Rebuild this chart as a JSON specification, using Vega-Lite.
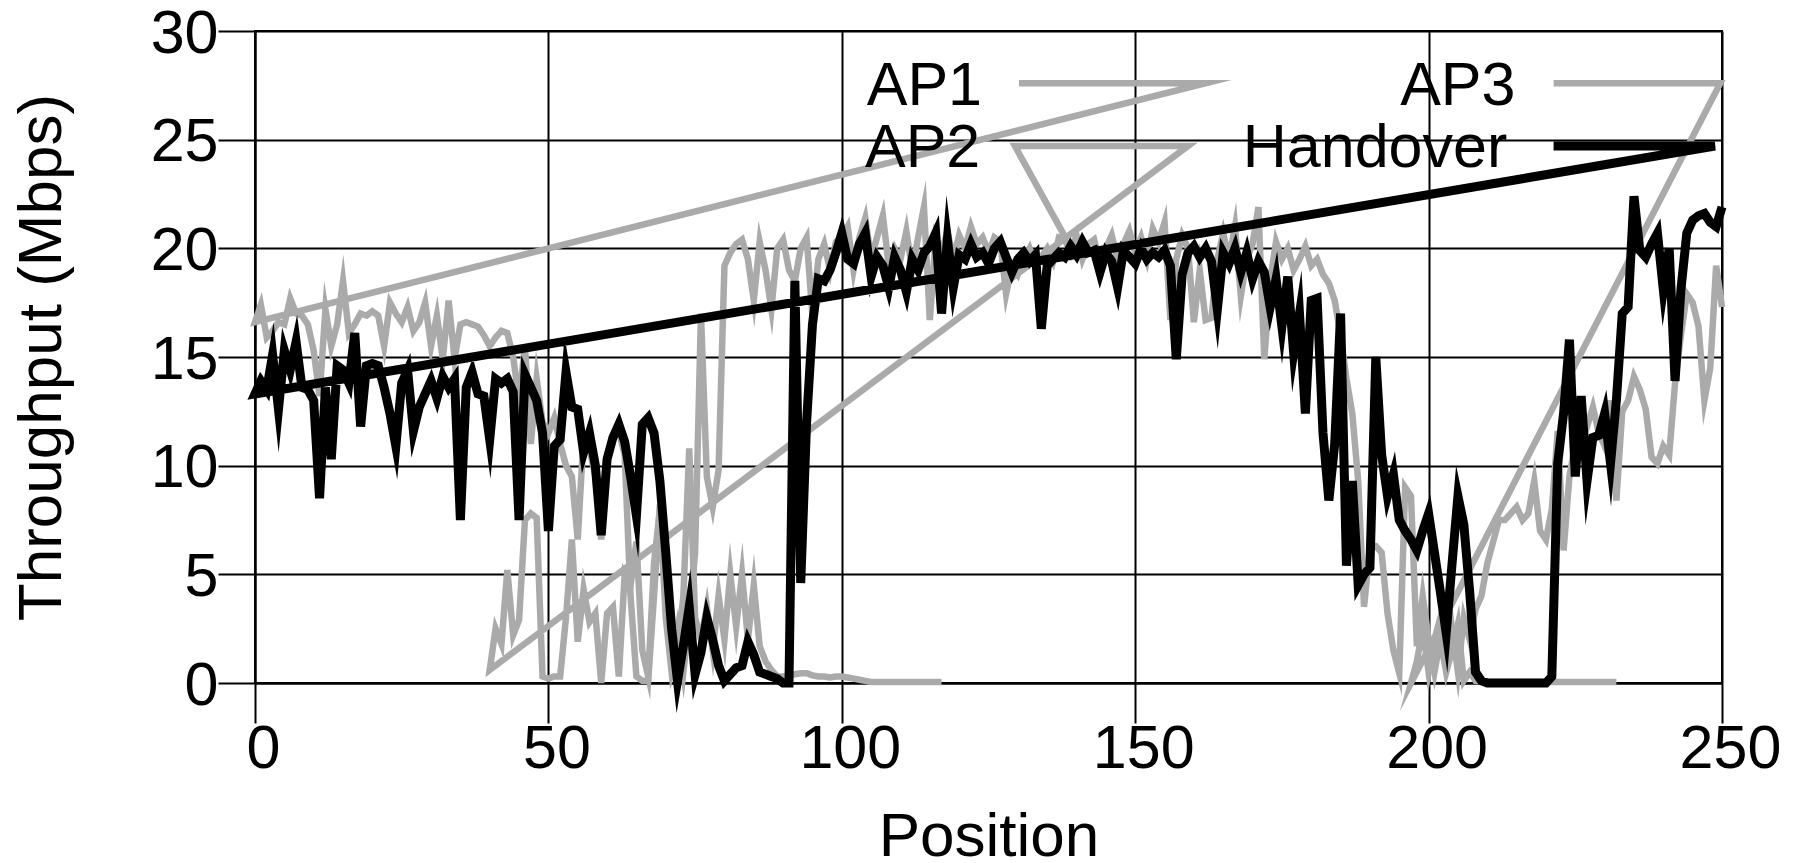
{
  "$schema": "https://vega.github.io/schema/vega-lite/v6.json",
  "width": 1467,
  "height": 652,
  "autosize": {"type": "none"},
  "padding": {"left": 255, "top": 31, "right": 75, "bottom": 180},
  "background": "white",
  "config": {
    "view": {"stroke": "black", "strokeWidth": 2},
    "axis": {
      "grid": true, "gridColor": "black", "gridWidth": 2, "gridOpacity": 1,
      "domainColor": "black", "domainWidth": 2,
      "tickColor": "black", "tickWidth": 2,
      "labelFont": "Liberation Sans", "labelFontSize": 61, "labelColor": "black",
      "labelFlush": false, "labelOverlap": false,
      "titleFont": "Liberation Sans", "titleFontSize": 62, "titleFontWeight": "normal", "titleColor": "black",
      "zindex": 1
    }
  },
  "datasets": {
    "lines": [
      {"s":"AP1","i":-2,"x":130.2,"y":27.6},{"s":"AP1","i":-1,"x":162.0,"y":27.6},
      {"s":"AP1","i":0,"x":0,"y":16.6},{"s":"AP1","i":1,"x":1,"y":17.4},{"s":"AP1","i":2,"x":2,"y":15.9},{"s":"AP1","i":3,"x":3,"y":16.2},{"s":"AP1","i":4,"x":4,"y":16.6},{"s":"AP1","i":5,"x":5,"y":16.5},{"s":"AP1","i":6,"x":6,"y":17.7},{"s":"AP1","i":7,"x":7,"y":17.0},{"s":"AP1","i":8,"x":8,"y":16.9},{"s":"AP1","i":9,"x":9,"y":16.5},
      {"s":"AP1","i":10,"x":10,"y":15.3},{"s":"AP1","i":11,"x":11,"y":13.2},{"s":"AP1","i":12,"x":12,"y":17.2},{"s":"AP1","i":13,"x":13,"y":15.5},{"s":"AP1","i":14,"x":14,"y":16.5},{"s":"AP1","i":15,"x":15,"y":18.5},{"s":"AP1","i":16,"x":16,"y":16.1},{"s":"AP1","i":17,"x":17,"y":16.5},{"s":"AP1","i":18,"x":18,"y":17.0},{"s":"AP1","i":19,"x":19,"y":16.9},
      {"s":"AP1","i":20,"x":20,"y":17.1},{"s":"AP1","i":21,"x":21,"y":16.9},{"s":"AP1","i":22,"x":22,"y":15.5},{"s":"AP1","i":23,"x":23,"y":17.5},{"s":"AP1","i":24,"x":24,"y":17.0},{"s":"AP1","i":25,"x":25,"y":16.6},{"s":"AP1","i":26,"x":26,"y":17.3},{"s":"AP1","i":27,"x":27,"y":16.2},{"s":"AP1","i":28,"x":28,"y":16.6},{"s":"AP1","i":29,"x":29,"y":17.5},
      {"s":"AP1","i":30,"x":30,"y":15.5},{"s":"AP1","i":31,"x":31,"y":16.9},{"s":"AP1","i":32,"x":32,"y":14.9},{"s":"AP1","i":33,"x":33,"y":17.6},{"s":"AP1","i":34,"x":34,"y":14.9},{"s":"AP1","i":35,"x":35,"y":16.5},{"s":"AP1","i":36,"x":36,"y":16.6},{"s":"AP1","i":37,"x":37,"y":16.5},{"s":"AP1","i":38,"x":38,"y":16.4},{"s":"AP1","i":39,"x":39,"y":16.0},
      {"s":"AP1","i":40,"x":40,"y":15.5},{"s":"AP1","i":41,"x":41,"y":15.9},{"s":"AP1","i":42,"x":42,"y":16.2},{"s":"AP1","i":43,"x":43,"y":16.1},{"s":"AP1","i":44,"x":44,"y":15.0},{"s":"AP1","i":45,"x":45,"y":13.0},{"s":"AP1","i":46,"x":46,"y":15.5},{"s":"AP1","i":47,"x":47,"y":11.0},{"s":"AP1","i":48,"x":48,"y":14.0},{"s":"AP1","i":49,"x":49,"y":12.0},
      {"s":"AP1","i":50,"x":50,"y":11.5},{"s":"AP1","i":51,"x":51,"y":12.2},{"s":"AP1","i":52,"x":52,"y":11.0},{"s":"AP1","i":53,"x":53,"y":10.0},{"s":"AP1","i":54,"x":54,"y":9.5},{"s":"AP1","i":55,"x":55,"y":6.6},{"s":"AP1","i":56,"x":56,"y":11.4},{"s":"AP1","i":57,"x":57,"y":10.8},{"s":"AP1","i":58,"x":58,"y":9.5},{"s":"AP1","i":59,"x":59,"y":6.6},
      {"s":"AP1","i":60,"x":60,"y":10.5},{"s":"AP1","i":61,"x":61,"y":11.2},{"s":"AP1","i":62,"x":62,"y":11.6},{"s":"AP1","i":63,"x":63,"y":10.5},{"s":"AP1","i":64,"x":64,"y":4.0},{"s":"AP1","i":65,"x":65,"y":0.3},{"s":"AP1","i":66,"x":66,"y":0.1},{"s":"AP1","i":67,"x":67,"y":0.1},{"s":"AP1","i":68,"x":68,"y":4.0},{"s":"AP1","i":69,"x":69,"y":8.2},
      {"s":"AP1","i":70,"x":70,"y":3.0},{"s":"AP1","i":71,"x":71,"y":0.5},{"s":"AP1","i":72,"x":72,"y":1.5},{"s":"AP1","i":73,"x":73,"y":4.0},{"s":"AP1","i":74,"x":74,"y":10.8},{"s":"AP1","i":75,"x":75,"y":3.0},{"s":"AP1","i":76,"x":76,"y":2.0},{"s":"AP1","i":77,"x":77,"y":3.5},{"s":"AP1","i":78,"x":78,"y":1.5},{"s":"AP1","i":79,"x":79,"y":4.0},
      {"s":"AP1","i":80,"x":80,"y":2.0},{"s":"AP1","i":81,"x":81,"y":5.0},{"s":"AP1","i":82,"x":82,"y":2.6},{"s":"AP1","i":83,"x":83,"y":5.0},{"s":"AP1","i":84,"x":84,"y":2.0},{"s":"AP1","i":85,"x":85,"y":4.5},{"s":"AP1","i":86,"x":86,"y":1.7},{"s":"AP1","i":87,"x":87,"y":1.0},{"s":"AP1","i":88,"x":88,"y":0.6},{"s":"AP1","i":89,"x":89,"y":0.3},
      {"s":"AP1","i":90,"x":90,"y":0.3},{"s":"AP1","i":91,"x":91,"y":0.35},{"s":"AP1","i":92,"x":92,"y":0.4},{"s":"AP1","i":93,"x":93,"y":0.45},{"s":"AP1","i":94,"x":94,"y":0.45},{"s":"AP1","i":95,"x":95,"y":0.35},{"s":"AP1","i":96,"x":96,"y":0.3},{"s":"AP1","i":97,"x":97,"y":0.3},{"s":"AP1","i":98,"x":98,"y":0.25},{"s":"AP1","i":99,"x":99,"y":0.3},
      {"s":"AP1","i":100,"x":100,"y":0.3},{"s":"AP1","i":101,"x":101,"y":0.25},{"s":"AP1","i":102,"x":102,"y":0.2},{"s":"AP1","i":103,"x":103,"y":0.15},{"s":"AP1","i":104,"x":104,"y":0.1},{"s":"AP1","i":105,"x":105,"y":0.05},{"s":"AP1","i":108,"x":108,"y":0.05},{"s":"AP1","i":112,"x":112,"y":0.05},{"s":"AP1","i":117,"x":117,"y":0.05},

      {"s":"AP2","i":-3,"x":138.3,"y":20.4},{"s":"AP2","i":-2,"x":129.5,"y":24.71},{"s":"AP2","i":-1,"x":159.0,"y":24.71},
      {"s":"AP2","i":40,"x":40,"y":0.6},{"s":"AP2","i":41,"x":41,"y":2.5},{"s":"AP2","i":42,"x":42,"y":1.8},{"s":"AP2","i":43,"x":43,"y":5.2},{"s":"AP2","i":44,"x":44,"y":2.2},{"s":"AP2","i":45,"x":45,"y":2.9},{"s":"AP2","i":46,"x":46,"y":7.5},{"s":"AP2","i":47,"x":47,"y":7.8},{"s":"AP2","i":48,"x":48,"y":7.6},{"s":"AP2","i":49,"x":49,"y":0.3},
      {"s":"AP2","i":50,"x":50,"y":0.2},{"s":"AP2","i":51,"x":51,"y":0.3},{"s":"AP2","i":52,"x":52,"y":0.3},{"s":"AP2","i":53,"x":53,"y":3.0},{"s":"AP2","i":54,"x":54,"y":6.6},{"s":"AP2","i":55,"x":55,"y":1.9},{"s":"AP2","i":56,"x":56,"y":4.3},{"s":"AP2","i":57,"x":57,"y":2.8},{"s":"AP2","i":58,"x":58,"y":3.2},{"s":"AP2","i":59,"x":59,"y":0.0},
      {"s":"AP2","i":60,"x":60,"y":3.2},{"s":"AP2","i":61,"x":61,"y":3.5},{"s":"AP2","i":62,"x":62,"y":0.3},{"s":"AP2","i":63,"x":63,"y":5.0},{"s":"AP2","i":64,"x":64,"y":4.5},{"s":"AP2","i":65,"x":65,"y":6.5},{"s":"AP2","i":66,"x":66,"y":1.5},{"s":"AP2","i":67,"x":67,"y":0.3},{"s":"AP2","i":68,"x":68,"y":5.5},{"s":"AP2","i":69,"x":69,"y":8.0},
      {"s":"AP2","i":70,"x":70,"y":4.0},{"s":"AP2","i":71,"x":71,"y":1.0},{"s":"AP2","i":72,"x":72,"y":2.5},{"s":"AP2","i":73,"x":73,"y":0.5},{"s":"AP2","i":74,"x":74,"y":3.0},{"s":"AP2","i":75,"x":75,"y":6.0},{"s":"AP2","i":76,"x":76,"y":17.0},{"s":"AP2","i":77,"x":77,"y":9.5},{"s":"AP2","i":78,"x":78,"y":8.1},{"s":"AP2","i":79,"x":79,"y":9.8},
      {"s":"AP2","i":80,"x":80,"y":19.2},{"s":"AP2","i":81,"x":81,"y":19.8},{"s":"AP2","i":82,"x":82,"y":20.2},{"s":"AP2","i":83,"x":83,"y":20.4},{"s":"AP2","i":84,"x":84,"y":19.5},{"s":"AP2","i":85,"x":85,"y":17.6},{"s":"AP2","i":86,"x":86,"y":20.3},{"s":"AP2","i":87,"x":87,"y":19.0},{"s":"AP2","i":88,"x":88,"y":17.2},{"s":"AP2","i":89,"x":89,"y":20.0},
      {"s":"AP2","i":90,"x":90,"y":20.4},{"s":"AP2","i":91,"x":91,"y":19.0},{"s":"AP2","i":92,"x":92,"y":18.5},{"s":"AP2","i":93,"x":93,"y":20.0},{"s":"AP2","i":94,"x":94,"y":20.5},{"s":"AP2","i":95,"x":95,"y":16.9},{"s":"AP2","i":96,"x":96,"y":19.5},{"s":"AP2","i":97,"x":97,"y":20.2},{"s":"AP2","i":98,"x":98,"y":19.0},{"s":"AP2","i":99,"x":99,"y":20.3},
      {"s":"AP2","i":100,"x":100,"y":20.5},{"s":"AP2","i":101,"x":101,"y":21.0},{"s":"AP2","i":102,"x":102,"y":19.0},{"s":"AP2","i":103,"x":103,"y":20.5},{"s":"AP2","i":104,"x":104,"y":21.4},{"s":"AP2","i":105,"x":105,"y":19.5},{"s":"AP2","i":106,"x":106,"y":20.5},{"s":"AP2","i":107,"x":107,"y":21.5},{"s":"AP2","i":108,"x":108,"y":19.2},{"s":"AP2","i":109,"x":109,"y":20.0},
      {"s":"AP2","i":110,"x":110,"y":19.5},{"s":"AP2","i":111,"x":111,"y":20.8},{"s":"AP2","i":112,"x":112,"y":19.0},{"s":"AP2","i":113,"x":113,"y":20.5},{"s":"AP2","i":114,"x":114,"y":21.9},{"s":"AP2","i":115,"x":115,"y":16.7},{"s":"AP2","i":116,"x":116,"y":20.5},{"s":"AP2","i":117,"x":117,"y":19.8},{"s":"AP2","i":118,"x":118,"y":20.8},{"s":"AP2","i":119,"x":119,"y":19.5},
      {"s":"AP2","i":120,"x":120,"y":20.6},{"s":"AP2","i":121,"x":121,"y":20.0},{"s":"AP2","i":122,"x":122,"y":21.0},{"s":"AP2","i":123,"x":123,"y":20.2},{"s":"AP2","i":124,"x":124,"y":20.5},{"s":"AP2","i":125,"x":125,"y":19.8},{"s":"AP2","i":126,"x":126,"y":20.5},{"s":"AP2","i":127,"x":127,"y":20.3},{"s":"AP2","i":128,"x":128,"y":17.9},{"s":"AP2","i":129,"x":129,"y":19.2},
      {"s":"AP2","i":130,"x":130,"y":18.8},{"s":"AP2","i":131,"x":131,"y":19.5},{"s":"AP2","i":132,"x":132,"y":20.0},{"s":"AP2","i":133,"x":133,"y":19.2},{"s":"AP2","i":134,"x":134,"y":19.6},{"s":"AP2","i":135,"x":135,"y":20.0},{"s":"AP2","i":136,"x":136,"y":19.4},{"s":"AP2","i":137,"x":137,"y":20.5},{"s":"AP2","i":138,"x":138,"y":20.4},{"s":"AP2","i":139,"x":139,"y":19.8},
      {"s":"AP2","i":140,"x":140,"y":20.6},{"s":"AP2","i":141,"x":141,"y":19.5},{"s":"AP2","i":142,"x":142,"y":20.2},{"s":"AP2","i":143,"x":143,"y":20.4},{"s":"AP2","i":144,"x":144,"y":19.3},{"s":"AP2","i":145,"x":145,"y":20.0},{"s":"AP2","i":146,"x":146,"y":20.6},{"s":"AP2","i":147,"x":147,"y":19.5},{"s":"AP2","i":148,"x":148,"y":20.2},{"s":"AP2","i":149,"x":149,"y":20.8},
      {"s":"AP2","i":150,"x":150,"y":19.8},{"s":"AP2","i":151,"x":151,"y":20.5},{"s":"AP2","i":152,"x":152,"y":19.5},{"s":"AP2","i":153,"x":153,"y":20.9},{"s":"AP2","i":154,"x":154,"y":20.3},{"s":"AP2","i":155,"x":155,"y":21.2},{"s":"AP2","i":156,"x":156,"y":16.7},{"s":"AP2","i":157,"x":157,"y":19.5},{"s":"AP2","i":158,"x":158,"y":20.6},{"s":"AP2","i":159,"x":159,"y":20.0},
      {"s":"AP2","i":160,"x":160,"y":16.6},{"s":"AP2","i":161,"x":161,"y":19.0},{"s":"AP2","i":162,"x":162,"y":16.7},{"s":"AP2","i":163,"x":163,"y":16.8},{"s":"AP2","i":164,"x":164,"y":19.5},{"s":"AP2","i":165,"x":165,"y":20.7},{"s":"AP2","i":166,"x":166,"y":19.5},{"s":"AP2","i":167,"x":167,"y":21.0},{"s":"AP2","i":168,"x":168,"y":17.8},{"s":"AP2","i":169,"x":169,"y":19.5},
      {"s":"AP2","i":170,"x":170,"y":20.2},{"s":"AP2","i":171,"x":171,"y":21.9},{"s":"AP2","i":172,"x":172,"y":14.9},{"s":"AP2","i":173,"x":173,"y":18.5},{"s":"AP2","i":174,"x":174,"y":20.3},{"s":"AP2","i":175,"x":175,"y":19.5},{"s":"AP2","i":176,"x":176,"y":20.0},{"s":"AP2","i":177,"x":177,"y":19.0},{"s":"AP2","i":178,"x":178,"y":19.5},{"s":"AP2","i":179,"x":179,"y":20.1},
      {"s":"AP2","i":180,"x":180,"y":19.2},{"s":"AP2","i":181,"x":181,"y":19.5},{"s":"AP2","i":182,"x":182,"y":18.8},{"s":"AP2","i":183,"x":183,"y":18.4},{"s":"AP2","i":184,"x":184,"y":17.6},{"s":"AP2","i":185,"x":185,"y":16.0},{"s":"AP2","i":186,"x":186,"y":14.0},{"s":"AP2","i":187,"x":187,"y":12.4},{"s":"AP2","i":188,"x":188,"y":9.3},{"s":"AP2","i":189,"x":189,"y":3.5},
      {"s":"AP2","i":190,"x":190,"y":6.3},{"s":"AP2","i":191,"x":191,"y":6.3},{"s":"AP2","i":192,"x":192,"y":6.0},{"s":"AP2","i":193,"x":193,"y":3.2},{"s":"AP2","i":194,"x":194,"y":1.5},{"s":"AP2","i":195,"x":195,"y":0.45},{"s":"AP2","i":196,"x":196,"y":9.0},{"s":"AP2","i":197,"x":197,"y":8.6},{"s":"AP2","i":198,"x":198,"y":1.7},{"s":"AP2","i":199,"x":199,"y":4.0},
      {"s":"AP2","i":200,"x":200,"y":2.0},{"s":"AP2","i":201,"x":201,"y":0.5},{"s":"AP2","i":202,"x":202,"y":2.0},{"s":"AP2","i":203,"x":203,"y":0.5},{"s":"AP2","i":204,"x":204,"y":1.5},{"s":"AP2","i":205,"x":205,"y":2.7},{"s":"AP2","i":206,"x":206,"y":0.1},{"s":"AP2","i":207,"x":207,"y":0.5},{"s":"AP2","i":208,"x":208,"y":0.1},{"s":"AP2","i":210,"x":210,"y":0.05},{"s":"AP2","i":220,"x":220,"y":0.05},{"s":"AP2","i":232,"x":232,"y":0.05},

      {"s":"AP3","i":-2,"x":221.3,"y":27.6},{"s":"AP3","i":-1,"x":249.7,"y":27.6},
      {"s":"AP3","i":197,"x":197,"y":0.0},{"s":"AP3","i":198,"x":198,"y":1.0},{"s":"AP3","i":199,"x":199,"y":2.5},{"s":"AP3","i":200,"x":200,"y":0.5},{"s":"AP3","i":201,"x":201,"y":2.0},{"s":"AP3","i":202,"x":202,"y":3.0},{"s":"AP3","i":203,"x":203,"y":1.0},{"s":"AP3","i":204,"x":204,"y":2.5},{"s":"AP3","i":205,"x":205,"y":0.5},{"s":"AP3","i":206,"x":206,"y":3.0},
      {"s":"AP3","i":207,"x":207,"y":2.0},{"s":"AP3","i":208,"x":208,"y":3.4},{"s":"AP3","i":209,"x":209,"y":4.0},{"s":"AP3","i":210,"x":210,"y":5.5},{"s":"AP3","i":211,"x":211,"y":6.5},{"s":"AP3","i":212,"x":212,"y":7.5},{"s":"AP3","i":213,"x":213,"y":7.5},{"s":"AP3","i":214,"x":214,"y":7.8},{"s":"AP3","i":215,"x":215,"y":8.1},{"s":"AP3","i":216,"x":216,"y":7.5},
      {"s":"AP3","i":217,"x":217,"y":7.8},{"s":"AP3","i":218,"x":218,"y":9.3},{"s":"AP3","i":219,"x":219,"y":7.0},{"s":"AP3","i":220,"x":220,"y":6.6},{"s":"AP3","i":221,"x":221,"y":8.0},{"s":"AP3","i":222,"x":222,"y":11.6},{"s":"AP3","i":223,"x":223,"y":6.1},{"s":"AP3","i":224,"x":224,"y":9.5},{"s":"AP3","i":225,"x":225,"y":11.0},{"s":"AP3","i":226,"x":226,"y":12.4},
      {"s":"AP3","i":227,"x":227,"y":11.8},{"s":"AP3","i":228,"x":228,"y":12.7},{"s":"AP3","i":229,"x":229,"y":11.5},{"s":"AP3","i":230,"x":230,"y":10.9},{"s":"AP3","i":231,"x":231,"y":13.0},{"s":"AP3","i":232,"x":232,"y":8.4},{"s":"AP3","i":233,"x":233,"y":12.5},{"s":"AP3","i":234,"x":234,"y":13.0},{"s":"AP3","i":235,"x":235,"y":14.1},{"s":"AP3","i":236,"x":236,"y":13.5},
      {"s":"AP3","i":237,"x":237,"y":12.6},{"s":"AP3","i":238,"x":238,"y":10.4},{"s":"AP3","i":239,"x":239,"y":10.1},{"s":"AP3","i":240,"x":240,"y":10.9},{"s":"AP3","i":241,"x":241,"y":10.5},{"s":"AP3","i":242,"x":242,"y":13.8},{"s":"AP3","i":243,"x":243,"y":16.0},{"s":"AP3","i":244,"x":244,"y":17.9},{"s":"AP3","i":245,"x":245,"y":17.5},{"s":"AP3","i":246,"x":246,"y":16.4},
      {"s":"AP3","i":247,"x":247,"y":13.0},{"s":"AP3","i":248,"x":248,"y":14.5},{"s":"AP3","i":249,"x":249,"y":19.2},{"s":"AP3","i":250,"x":250,"y":17.3},

      {"s":"H","i":-2,"x":221.3,"y":24.71},{"s":"H","i":-1,"x":248.8,"y":24.71},
      {"s":"H","i":0,"x":0,"y":13.3},{"s":"H","i":1,"x":1,"y":13.9},{"s":"H","i":2,"x":2,"y":13.5},{"s":"H","i":3,"x":3,"y":15.1},{"s":"H","i":4,"x":4,"y":12.6},{"s":"H","i":5,"x":5,"y":15.3},{"s":"H","i":6,"x":6,"y":14.4},{"s":"H","i":7,"x":7,"y":15.7},{"s":"H","i":8,"x":8,"y":13.6},{"s":"H","i":9,"x":9,"y":13.5},
      {"s":"H","i":10,"x":10,"y":13.0},{"s":"H","i":11,"x":11,"y":8.5},{"s":"H","i":12,"x":12,"y":13.6},{"s":"H","i":13,"x":13,"y":10.3},{"s":"H","i":14,"x":14,"y":14.6},{"s":"H","i":15,"x":15,"y":14.4},{"s":"H","i":16,"x":16,"y":13.8},{"s":"H","i":17,"x":17,"y":16.1},{"s":"H","i":18,"x":18,"y":11.8},{"s":"H","i":19,"x":19,"y":14.6},
      {"s":"H","i":20,"x":20,"y":14.7},{"s":"H","i":21,"x":21,"y":14.6},{"s":"H","i":22,"x":22,"y":13.6},{"s":"H","i":23,"x":23,"y":12.4},{"s":"H","i":24,"x":24,"y":10.9},{"s":"H","i":25,"x":25,"y":13.8},{"s":"H","i":26,"x":26,"y":14.4},{"s":"H","i":27,"x":27,"y":11.6},{"s":"H","i":28,"x":28,"y":12.7},{"s":"H","i":29,"x":29,"y":13.3},
      {"s":"H","i":30,"x":30,"y":13.9},{"s":"H","i":31,"x":31,"y":13.1},{"s":"H","i":32,"x":32,"y":14.1},{"s":"H","i":33,"x":33,"y":13.6},{"s":"H","i":34,"x":34,"y":14.0},{"s":"H","i":35,"x":35,"y":7.5},{"s":"H","i":36,"x":36,"y":13.6},{"s":"H","i":37,"x":37,"y":14.3},{"s":"H","i":38,"x":38,"y":13.3},{"s":"H","i":39,"x":39,"y":13.2},
      {"s":"H","i":40,"x":40,"y":11.2},{"s":"H","i":41,"x":41,"y":14.0},{"s":"H","i":42,"x":42,"y":13.8},{"s":"H","i":43,"x":43,"y":14.0},{"s":"H","i":44,"x":44,"y":13.4},{"s":"H","i":45,"x":45,"y":7.5},{"s":"H","i":46,"x":46,"y":14.2},{"s":"H","i":47,"x":47,"y":13.6},{"s":"H","i":48,"x":48,"y":13.0},{"s":"H","i":49,"x":49,"y":11.5},
      {"s":"H","i":50,"x":50,"y":7.0},{"s":"H","i":51,"x":51,"y":10.9},{"s":"H","i":52,"x":52,"y":11.2},{"s":"H","i":53,"x":53,"y":14.3},{"s":"H","i":54,"x":54,"y":12.7},{"s":"H","i":55,"x":55,"y":12.6},{"s":"H","i":56,"x":56,"y":10.6},{"s":"H","i":57,"x":57,"y":11.5},{"s":"H","i":58,"x":58,"y":10.0},{"s":"H","i":59,"x":59,"y":6.8},
      {"s":"H","i":60,"x":60,"y":10.3},{"s":"H","i":61,"x":61,"y":11.3},{"s":"H","i":62,"x":62,"y":11.9},{"s":"H","i":63,"x":63,"y":11.1},{"s":"H","i":64,"x":64,"y":9.5},{"s":"H","i":65,"x":65,"y":7.7},{"s":"H","i":66,"x":66,"y":11.9},{"s":"H","i":67,"x":67,"y":12.2},{"s":"H","i":68,"x":68,"y":11.5},{"s":"H","i":69,"x":69,"y":9.3},
      {"s":"H","i":70,"x":70,"y":6.0},{"s":"H","i":71,"x":71,"y":2.5},{"s":"H","i":72,"x":72,"y":0.1},{"s":"H","i":73,"x":73,"y":1.7},{"s":"H","i":74,"x":74,"y":3.5},{"s":"H","i":75,"x":75,"y":0.4},{"s":"H","i":76,"x":76,"y":1.4},{"s":"H","i":77,"x":77,"y":3.0},{"s":"H","i":78,"x":78,"y":2.0},{"s":"H","i":79,"x":79,"y":0.8},
      {"s":"H","i":80,"x":80,"y":0.1},{"s":"H","i":81,"x":81,"y":0.4},{"s":"H","i":82,"x":82,"y":0.7},{"s":"H","i":83,"x":83,"y":0.8},{"s":"H","i":84,"x":84,"y":1.9},{"s":"H","i":85,"x":85,"y":1.3},{"s":"H","i":86,"x":86,"y":0.5},{"s":"H","i":87,"x":87,"y":0.4},{"s":"H","i":88,"x":88,"y":0.3},{"s":"H","i":89,"x":89,"y":0.2},
      {"s":"H","i":90,"x":90,"y":0.0},{"s":"H","i":91,"x":91,"y":0.0},{"s":"H","i":92,"x":92,"y":18.5},{"s":"H","i":93,"x":93,"y":4.6},{"s":"H","i":94,"x":94,"y":12.0},{"s":"H","i":95,"x":95,"y":16.5},{"s":"H","i":96,"x":96,"y":18.6},{"s":"H","i":97,"x":97,"y":18.5},{"s":"H","i":98,"x":98,"y":19.0},{"s":"H","i":99,"x":99,"y":19.8},
      {"s":"H","i":100,"x":100,"y":20.7},{"s":"H","i":101,"x":101,"y":19.5},{"s":"H","i":102,"x":102,"y":19.3},{"s":"H","i":103,"x":103,"y":20.2},{"s":"H","i":104,"x":104,"y":20.7},{"s":"H","i":105,"x":105,"y":18.7},{"s":"H","i":106,"x":106,"y":19.6},{"s":"H","i":107,"x":107,"y":19.2},{"s":"H","i":108,"x":108,"y":18.2},{"s":"H","i":109,"x":109,"y":19.6},
      {"s":"H","i":110,"x":110,"y":19.0},{"s":"H","i":111,"x":111,"y":18.0},{"s":"H","i":112,"x":112,"y":19.5},{"s":"H","i":113,"x":113,"y":19.0},{"s":"H","i":114,"x":114,"y":19.8},{"s":"H","i":115,"x":115,"y":20.1},{"s":"H","i":116,"x":116,"y":20.7},{"s":"H","i":117,"x":117,"y":17.0},{"s":"H","i":118,"x":118,"y":20.4},{"s":"H","i":119,"x":119,"y":18.2},
      {"s":"H","i":120,"x":120,"y":19.7},{"s":"H","i":121,"x":121,"y":19.5},{"s":"H","i":122,"x":122,"y":20.2},{"s":"H","i":123,"x":123,"y":19.6},{"s":"H","i":124,"x":124,"y":19.8},{"s":"H","i":125,"x":125,"y":19.3},{"s":"H","i":126,"x":126,"y":20.0},{"s":"H","i":127,"x":127,"y":20.3},{"s":"H","i":128,"x":128,"y":19.6},{"s":"H","i":129,"x":129,"y":18.9},
      {"s":"H","i":130,"x":130,"y":19.5},{"s":"H","i":131,"x":131,"y":19.8},{"s":"H","i":132,"x":132,"y":19.4},{"s":"H","i":133,"x":133,"y":19.7},{"s":"H","i":134,"x":134,"y":16.3},{"s":"H","i":135,"x":135,"y":19.2},{"s":"H","i":136,"x":136,"y":19.5},{"s":"H","i":137,"x":137,"y":19.8},{"s":"H","i":138,"x":138,"y":19.6},{"s":"H","i":139,"x":139,"y":20.1},
      {"s":"H","i":140,"x":140,"y":19.7},{"s":"H","i":141,"x":141,"y":20.3},{"s":"H","i":142,"x":142,"y":19.8},{"s":"H","i":143,"x":143,"y":19.9},{"s":"H","i":144,"x":144,"y":18.9},{"s":"H","i":145,"x":145,"y":19.8},{"s":"H","i":146,"x":146,"y":19.4},{"s":"H","i":147,"x":147,"y":18.2},{"s":"H","i":148,"x":148,"y":19.9},{"s":"H","i":149,"x":149,"y":19.6},
      {"s":"H","i":150,"x":150,"y":19.3},{"s":"H","i":151,"x":151,"y":20.0},{"s":"H","i":152,"x":152,"y":19.5},{"s":"H","i":153,"x":153,"y":19.8},{"s":"H","i":154,"x":154,"y":19.6},{"s":"H","i":155,"x":155,"y":19.9},{"s":"H","i":156,"x":156,"y":19.2},{"s":"H","i":157,"x":157,"y":14.9},{"s":"H","i":158,"x":158,"y":18.8},{"s":"H","i":159,"x":159,"y":19.8},
      {"s":"H","i":160,"x":160,"y":20.1},{"s":"H","i":161,"x":161,"y":19.6},{"s":"H","i":162,"x":162,"y":20.0},{"s":"H","i":163,"x":163,"y":19.4},{"s":"H","i":164,"x":164,"y":17.2},{"s":"H","i":165,"x":165,"y":19.8},{"s":"H","i":166,"x":166,"y":19.3},{"s":"H","i":167,"x":167,"y":20.0},{"s":"H","i":168,"x":168,"y":18.9},{"s":"H","i":169,"x":169,"y":19.8},
      {"s":"H","i":170,"x":170,"y":18.6},{"s":"H","i":171,"x":171,"y":19.4},{"s":"H","i":172,"x":172,"y":18.9},{"s":"H","i":173,"x":173,"y":17.3},{"s":"H","i":174,"x":174,"y":18.6},{"s":"H","i":175,"x":175,"y":16.4},{"s":"H","i":176,"x":176,"y":18.7},{"s":"H","i":177,"x":177,"y":15.2},{"s":"H","i":178,"x":178,"y":17.0},{"s":"H","i":179,"x":179,"y":12.4},
      {"s":"H","i":180,"x":180,"y":17.6},{"s":"H","i":181,"x":181,"y":17.7},{"s":"H","i":182,"x":182,"y":11.5},{"s":"H","i":183,"x":183,"y":8.4},{"s":"H","i":184,"x":184,"y":11.0},{"s":"H","i":185,"x":185,"y":17.0},{"s":"H","i":186,"x":186,"y":5.4},{"s":"H","i":187,"x":187,"y":9.3},{"s":"H","i":188,"x":188,"y":4.5},{"s":"H","i":189,"x":189,"y":5.0},
      {"s":"H","i":190,"x":190,"y":5.3},{"s":"H","i":191,"x":191,"y":15.0},{"s":"H","i":192,"x":192,"y":10.5},{"s":"H","i":193,"x":193,"y":8.6},{"s":"H","i":194,"x":194,"y":9.6},{"s":"H","i":195,"x":195,"y":7.5},{"s":"H","i":196,"x":196,"y":7.0},{"s":"H","i":197,"x":197,"y":6.6},{"s":"H","i":198,"x":198,"y":6.1},{"s":"H","i":199,"x":199,"y":7.0},
      {"s":"H","i":200,"x":200,"y":7.8},{"s":"H","i":201,"x":201,"y":6.0},{"s":"H","i":202,"x":202,"y":4.2},{"s":"H","i":203,"x":203,"y":2.3},{"s":"H","i":204,"x":204,"y":5.5},{"s":"H","i":205,"x":205,"y":8.6},{"s":"H","i":206,"x":206,"y":7.3},{"s":"H","i":207,"x":207,"y":4.2},{"s":"H","i":208,"x":208,"y":0.5},{"s":"H","i":209,"x":209,"y":0.1},
      {"s":"H","i":210,"x":210,"y":0.0},{"s":"H","i":215,"x":215,"y":0.0},{"s":"H","i":220,"x":220,"y":0.0},{"s":"H","i":221,"x":221,"y":0.3},{"s":"H","i":222,"x":222,"y":10.1},{"s":"H","i":223,"x":223,"y":12.4},{"s":"H","i":224,"x":224,"y":15.8},{"s":"H","i":225,"x":225,"y":9.5},{"s":"H","i":226,"x":226,"y":13.2},{"s":"H","i":227,"x":227,"y":9.3},
      {"s":"H","i":228,"x":228,"y":11.3},{"s":"H","i":229,"x":229,"y":11.4},{"s":"H","i":230,"x":230,"y":12.4},{"s":"H","i":231,"x":231,"y":10.1},{"s":"H","i":232,"x":232,"y":13.0},{"s":"H","i":233,"x":233,"y":17.0},{"s":"H","i":234,"x":234,"y":17.3},{"s":"H","i":235,"x":235,"y":22.4},{"s":"H","i":236,"x":236,"y":19.9},{"s":"H","i":237,"x":237,"y":19.6},
      {"s":"H","i":238,"x":238,"y":20.2},{"s":"H","i":239,"x":239,"y":20.7},{"s":"H","i":240,"x":240,"y":18.1},{"s":"H","i":241,"x":241,"y":20.0},{"s":"H","i":242,"x":242,"y":13.9},{"s":"H","i":243,"x":243,"y":18.1},{"s":"H","i":244,"x":244,"y":20.7},{"s":"H","i":245,"x":245,"y":21.3},{"s":"H","i":246,"x":246,"y":21.5},{"s":"H","i":247,"x":247,"y":21.6},
      {"s":"H","i":248,"x":248,"y":21.2},{"s":"H","i":249,"x":249,"y":21.0},{"s":"H","i":250,"x":250,"y":21.9}
    ],
    "labels": [
      {"t":"AP1","x":123.9,"y":27.6},
      {"t":"AP2","x":123.6,"y":24.71},
      {"t":"AP3","x":214.8,"y":27.6},
      {"t":"Handover","x":213.4,"y":24.71}
    ]
  },
  "layer": [
    {
      "data": {"name": "lines"},
      "transform": [{"filter": "datum.s != 'H'"}],
      "mark": {"type": "line", "stroke": "#aaaaaa", "strokeWidth": 6.5, "strokeJoin": "miter", "strokeMiterLimit": 10},
      "encoding": {
        "x": {"field": "x", "type": "quantitative", "scale": {"domain": [0, 250], "nice": false, "zero": false},
              "axis": {"values": [0, 50, 100, 150, 200, 250], "tickSize": 40, "labelPadding": -4, "labelOffset": 8,
                       "title": "Position", "titleBaseline": "alphabetic", "titleY": 172}},
        "y": {"field": "y", "type": "quantitative", "scale": {"domain": [0, 30], "nice": false},
              "axis": {"values": [0, 5, 10, 15, 20, 25, 30], "tickSize": 37, "labelPadding": 0, "labelOffset": 3,
                       "title": "Throughput (Mbps)", "titleAngle": 270, "titleBaseline": "alphabetic", "titleAlign": "center",
                       "titleX": -195, "titleY": 326}},
        "detail": {"field": "s", "type": "nominal"},
        "order": {"field": "i", "type": "quantitative"}
      }
    },
    {
      "data": {"name": "lines"},
      "transform": [{"filter": "datum.s == 'H'"}],
      "mark": {"type": "line", "stroke": "black", "strokeWidth": 9, "strokeJoin": "miter", "strokeMiterLimit": 10},
      "encoding": {
        "x": {"field": "x", "type": "quantitative"},
        "y": {"field": "y", "type": "quantitative"},
        "order": {"field": "i", "type": "quantitative"}
      }
    },
    {
      "data": {"name": "labels"},
      "mark": {"type": "text", "align": "right", "baseline": "alphabetic", "dy": 21.5, "font": "Liberation Sans", "fontSize": 61, "color": "black"},
      "encoding": {
        "x": {"field": "x", "type": "quantitative"},
        "y": {"field": "y", "type": "quantitative"},
        "text": {"field": "t", "type": "nominal"}
      }
    }
  ]
}
